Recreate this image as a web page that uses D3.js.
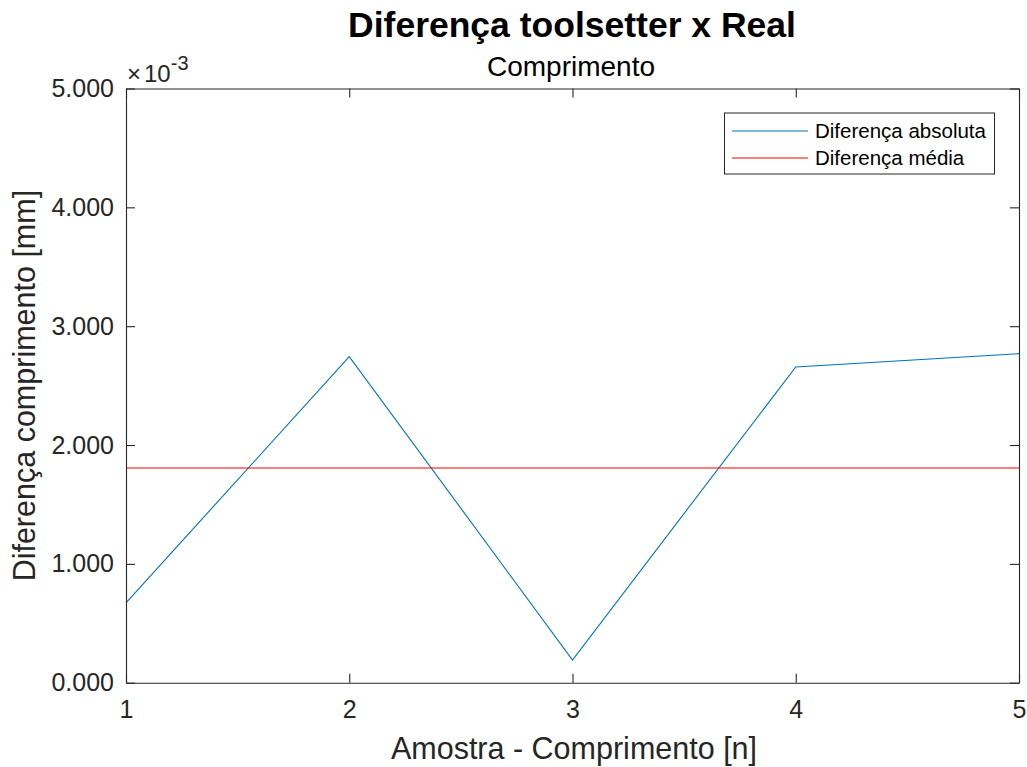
<!DOCTYPE html>
<html>
<head>
<meta charset="utf-8">
<script src="https://cdn.jsdelivr.net/npm/d3@7"></script>
<style>
  body { margin: 0; background: #fff; }
  svg text { font-family: "Liberation Sans", Arial, Helvetica, sans-serif; }
</style>
</head>
<body>
<svg id="chart" width="1027" height="767"></svg>
<script>
// Sample indices and measured absolute differences (mm)
const samples = [1, 2, 3, 4, 5];
const absDiff = [0.000671, 0.002744, 0.000191, 0.002657, 0.002769];
const meanDiff = d3.mean(absDiff);
const yTicks = [0, 0.001, 0.002, 0.003, 0.004, 0.005];
const xTicks = [1, 2, 3, 4, 5];
const seriesNames = ["Diferença absoluta", "Diferença média"];
const seriesColors = ["#0072BD", "#FF0000"];

const svg = d3.select("#chart");
const plotL = 126, plotR = 1019, plotT = 88.5, plotB = 682.7;
const axisColor = "#262626";
const font = '"Liberation Sans", Arial, sans-serif';

const x = d3.scaleLinear().domain([1, 5]).range([plotL, plotR]);
const y = d3.scaleLinear().domain([0, 0.005]).range([plotB, plotT]);

svg.append("rect").attr("width", 1027).attr("height", 767).attr("fill", "#fff");

// Data lines
const line = d3.line().x((d, i) => x(samples[i])).y(d => y(d));
svg.append("path").datum(absDiff)
  .attr("d", line).attr("fill", "none")
  .attr("stroke", seriesColors[0]).attr("stroke-width", 1.1);

svg.append("line")
  .attr("x1", x(1)).attr("x2", x(5))
  .attr("y1", y(meanDiff)).attr("y2", y(meanDiff))
  .attr("stroke", seriesColors[1]).attr("stroke-width", 1.1);

// Axes: box with inward ticks on all sides
const tickLen = 9;
const fmt = d => (d * 1000).toFixed(3);

const yAxisL = d3.axisLeft(y).tickValues(yTicks).tickSizeInner(-tickLen).tickSizeOuter(0).tickPadding(12).tickFormat(fmt);
const yAxisR = d3.axisRight(y).tickValues(yTicks).tickSizeInner(-tickLen).tickSizeOuter(0).tickFormat("");
const xAxisB = d3.axisBottom(x).tickValues(xTicks).tickSizeInner(-tickLen).tickSizeOuter(0).tickPadding(18).tickFormat(d3.format("d"));
const xAxisT = d3.axisTop(x).tickValues(xTicks).tickSizeInner(-tickLen).tickSizeOuter(0).tickFormat("");

function style(g) {
  g.attr("font-size", null).attr("font-family", null);
  g.selectAll("path.domain").attr("stroke", axisColor).attr("stroke-width", 1.1);
  g.selectAll(".tick line").attr("stroke", axisColor).attr("stroke-width", 1.1);
  g.selectAll(".tick text").attr("fill", axisColor)
    .style("font-size", "25px").style("font-family", font);
}

svg.append("g").attr("transform", `translate(${plotL},0)`).call(yAxisL).call(style);
svg.append("g").attr("transform", `translate(${plotR},0)`).call(yAxisR).call(style);
svg.append("g").attr("transform", `translate(0,${plotB})`).call(xAxisB).call(style);
svg.append("g").attr("transform", `translate(0,${plotT})`).call(xAxisT).call(style);

// Exponent marker
const expo = svg.append("text").attr("x", 127).attr("y", 82).attr("fill", axisColor).style("font-size", "24px");
expo.append("tspan").text("×");
expo.append("tspan").attr("dx", 3).text("10");
expo.append("tspan").attr("dy", -12).style("font-size", "20px").text("-3");

// Titles
svg.append("text").attr("x", 572).attr("y", 37)
  .attr("text-anchor", "middle").style("font-size", "35.5px").attr("font-weight", "bold")
  .attr("fill", "#000").text("Diferença toolsetter x Real");
svg.append("text").attr("x", 571).attr("y", 76)
  .attr("text-anchor", "middle").style("font-size", "28px")
  .attr("fill", "#000").text("Comprimento");

// Axis labels
svg.append("text").attr("x", 574).attr("y", 759)
  .attr("text-anchor", "middle").style("font-size", "30.5px").attr("fill", axisColor)
  .text("Amostra - Comprimento [n]");
svg.append("text")
  .attr("transform", `translate(35,${(plotT + plotB) / 2}) rotate(-90)`)
  .attr("text-anchor", "middle").style("font-size", "30.5px").attr("fill", axisColor)
  .text("Diferença comprimento [mm]");

// Legend
const lg = svg.append("g");
lg.append("rect").attr("x", 724.5).attr("y", 113).attr("width", 270).attr("height", 61)
  .attr("fill", "#fff").attr("stroke", axisColor).attr("stroke-width", 1);
seriesNames.forEach((name, i) => {
  const cy = 131 + i * 27;
  lg.append("line").attr("x1", 732).attr("x2", 808).attr("y1", cy).attr("y2", cy)
    .attr("stroke", seriesColors[i]).attr("stroke-width", 1.1);
  lg.append("text").attr("x", 815).attr("y", cy + 7).style("font-size", "20.5px")
    .attr("fill", "#000").text(name);
});
</script>
</body>
</html>
